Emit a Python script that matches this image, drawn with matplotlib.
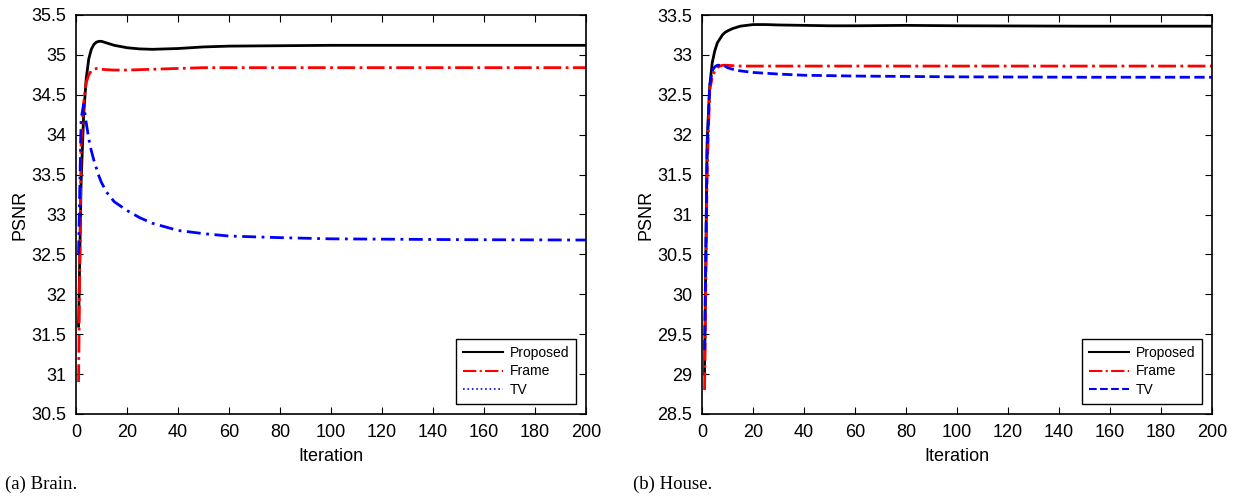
import matplotlib.pyplot as plt
from matplotlib.lines import Line2D
from matplotlib.ticker import FormatStrFormatter, MultipleLocator

plt.rcParams["font.family"] = ["Liberation Sans", "DejaVu Sans"]

# (a) Brain - PSNR against iteration
brain_it = [1, 2, 3, 4, 5, 6, 7, 8, 9, 10, 12, 15, 20, 25, 30, 40, 50, 60, 80, 100, 150, 200]
brain_proposed = [31.6, 33.4, 34.25, 34.7, 34.95, 35.07, 35.13, 35.16, 35.17, 35.17, 35.15,
                  35.12, 35.09, 35.075, 35.07, 35.08, 35.1, 35.11, 35.115, 35.12, 35.12, 35.12]
brain_frame = [30.9, 33.9, 34.4, 34.65, 34.75, 34.8, 34.82, 34.83, 34.83, 34.82, 34.815,
               34.81, 34.81, 34.815, 34.82, 34.83, 34.84, 34.84, 34.84, 34.84, 34.84, 34.84]
brain_tv = [32.5, 34.2, 34.38, 34.15, 33.95, 33.8, 33.68, 33.58, 33.48, 33.4, 33.28,
            33.16, 33.05, 32.96, 32.89, 32.8, 32.76, 32.73, 32.71, 32.695, 32.685, 32.68]

# (b) House
house_it = [1, 2, 3, 4, 5, 6, 7, 8, 9, 10, 12, 15, 20, 25, 30, 40, 50, 60, 80, 100, 150, 200]
house_proposed = [29.0, 31.9, 32.6, 32.9, 33.05, 33.15, 33.2, 33.25, 33.28, 33.3, 33.33,
                  33.36, 33.38, 33.38, 33.375, 33.37, 33.365, 33.365, 33.37, 33.365, 33.36, 33.36]
house_frame = [28.8, 31.5, 32.55, 32.72, 32.8, 32.84, 32.86, 32.87, 32.87, 32.87, 32.865,
               32.86, 32.86, 32.86, 32.86, 32.86, 32.86, 32.86, 32.86, 32.86, 32.86, 32.86]
house_tv = [29.3, 31.8, 32.6, 32.8, 32.85, 32.87, 32.87, 32.87, 32.86, 32.84, 32.82,
            32.8, 32.78, 32.77, 32.76, 32.745, 32.74, 32.735, 32.73, 32.725, 32.72, 32.72]

fig = plt.figure(figsize=(12.41, 4.96), dpi=100)
ax1 = fig.add_axes([76 / 1241, 1 - 414 / 496, 510 / 1241, 399 / 496])
ax2 = fig.add_axes([702 / 1241, 1 - 414 / 496, 510 / 1241, 399 / 496])


def style(ax, ylo, yhi):
    ax.set_xlim(0, 200)
    ax.set_ylim(ylo, yhi)
    ax.xaxis.set_major_locator(MultipleLocator(20))
    ax.yaxis.set_major_locator(MultipleLocator(0.5))
    ax.yaxis.set_major_formatter(FormatStrFormatter("%g"))
    ax.tick_params(direction="in", top=True, right=True, labelsize=13, length=5)
    ax.tick_params(axis="y", pad=7)
    ax.tick_params(axis="x", pad=7)
    ax.set_xlabel("Iteration", fontsize=13, labelpad=5)
    ax.set_ylabel("PSNR", fontsize=13, labelpad=2)
    for s in ax.spines.values():
        s.set_linewidth(1.2)


def add_legend(ax, handles, pad):
    ax.legend(handles, ["Proposed", "Frame", "TV"], loc="lower right", fontsize=10,
              fancybox=False, edgecolor="black", framealpha=1, handlelength=2.9,
              handletextpad=0.5, labelspacing=0.35, borderpad=0.45,
              borderaxespad=pad)


# Brain panel
ax1.plot(brain_it, brain_proposed, color="black", lw=2)
ax1.plot(brain_it, brain_frame, color="red", lw=2, ls="-.")
ax1.plot(brain_it, brain_tv, color="blue", lw=2, ls=(0, (5, 2, 1, 2)))
style(ax1, 30.5, 35.5)
add_legend(ax1, [Line2D([], [], color="black", lw=1.5),
                 Line2D([], [], color="red", lw=1.5, ls="-."),
                 Line2D([], [], color="blue", lw=1.2, ls=":")], 0.75)

# House panel
ax2.plot(house_it, house_proposed, color="black", lw=2)
ax2.plot(house_it, house_frame, color="red", lw=2, ls="-.")
ax2.plot(house_it, house_tv, color="blue", lw=2, ls="--")
style(ax2, 28.5, 33.5)
add_legend(ax2, [Line2D([], [], color="black", lw=1.5),
                 Line2D([], [], color="red", lw=1.5, ls="-."),
                 Line2D([], [], color="blue", lw=1.5, ls="--")], 0.75)

fig.text(5 / 1241, 1 - 484 / 496, "(a) Brain.", fontsize=13.5, family="Liberation Serif",
         va="center")
fig.text(633 / 1241, 1 - 484 / 496, "(b) House.", fontsize=13.5, family="Liberation Serif",
         va="center")

fig.savefig("out.png", dpi=100)
